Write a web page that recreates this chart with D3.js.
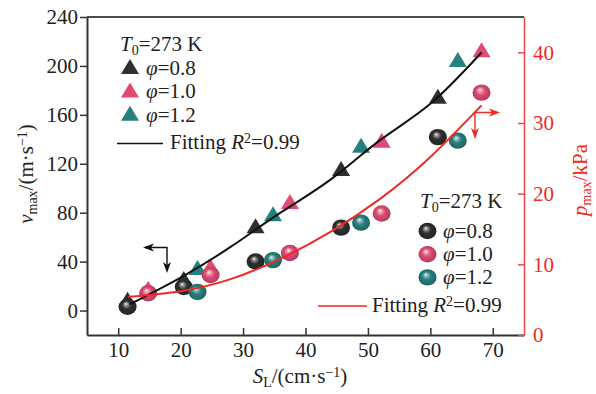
<!DOCTYPE html>
<html>
<head>
<meta charset="utf-8">
<script src="https://cdn.jsdelivr.net/npm/d3@7"></script>
<style>
  html, body { margin: 0; padding: 0; background: #fff; }
  svg text { font-family: "Liberation Serif", "Times New Roman", serif; }
</style>
</head>
<body>
<svg id="chart" width="596" height="394"></svg>
<script>
// Laminar burning velocity S_L (cm/s) for each equivalence ratio
const sl08 = [11.5, 20.5, 32.0, 45.7, 61.2];
const sl10 = [14.8, 24.8, 37.5, 52.2, 68.2];
const sl12 = [22.7, 34.8, 48.9, 64.4];

// Maximum flame speed v_max (m/s) — triangles, left axis
const v08 = [8, 25, 68, 115, 174];
const v10 = [17, 35, 88, 138, 212];
const v12 = [34, 78, 134, 204];

// Maximum overpressure p_max (kPa) — spheres, right axis
const p08 = [4.0, 6.8, 10.4, 15.2, 28.0];
const p10 = [5.9, 8.5, 11.6, 17.2, 34.3];
const p12 = [6.1, 10.6, 15.9, 27.5];

// Fitted curves (R² = 0.99), sampled along S_L
const fitVx = [11.8, 20, 28, 36, 44, 52, 60, 68.2];
const fitV  = [5, 27, 52, 80, 107, 139.5, 169, 211];
const fitPx = [11.6, 20, 28, 36, 44, 52, 60, 68.2];
const fitP  = [5.4, 6.2, 7.9, 10.8, 14.6, 19.3, 25.2, 32.5];

// Tick labels
const xTicks = [10, 20, 30, 40, 50, 60, 70];
const yLeftTicks = [0, 40, 80, 120, 160, 200, 240];
const yRightTicks = [0, 10, 20, 30, 40];

const phiLabels = ["0.8", "1.0", "1.2"];
const colors = ["#2f2f2f", "#e04b73", "#26807f"];

const svg = d3.select("#chart");
const L = 87, R = 524, T = 17, B = 335;
const FS = 21;
const RED = "#ee2a24";

const x = d3.scaleLinear().domain([5, 75]).range([L, R]);
const yL = d3.scaleLinear().domain([-20, 240]).range([B, T]);
const yR = d3.scaleLinear().domain([0, 45]).range([B, T]);

// sphere gradients
const defs = svg.append("defs");
colors.forEach((c, i) => {
  const g = defs.append("radialGradient").attr("id", "ball" + i)
    .attr("cx", "50%").attr("cy", "50%").attr("r", "55%")
    .attr("fx", "40%").attr("fy", "32%");
  const base = d3.color(c);
  g.append("stop").attr("offset", "0%").attr("stop-color", "#ffffff");
  g.append("stop").attr("offset", "14%").attr("stop-color", d3.interpolateRgb(c, "#fff")(0.55));
  g.append("stop").attr("offset", "45%").attr("stop-color", c);
  g.append("stop").attr("offset", "100%").attr("stop-color", base.darker(0.8).formatHex());
});

// frame top line
svg.append("line").attr("x1", L).attr("x2", R).attr("y1", T).attr("y2", T)
  .attr("stroke", "#111").attr("stroke-width", 1.5);

// left axis
const gL = svg.append("g").attr("transform", `translate(${L},0)`)
  .call(d3.axisLeft(yL).tickValues(yLeftTicks).tickSizeInner(7).tickSizeOuter(0).tickPadding(2));
gL.select(".domain").attr("stroke", "#333").attr("stroke-width", 2);
gL.selectAll(".tick line").attr("stroke", "#333").attr("stroke-width", 1.5);
gL.selectAll(".tick text").attr("font-size", FS).attr("fill", "#222")
  .attr("font-family", "Liberation Serif, serif");

// bottom axis
const gB = svg.append("g").attr("transform", `translate(0,${B})`)
  .call(d3.axisBottom(x).tickValues(xTicks).tickSizeInner(-7).tickSizeOuter(0).tickPadding(7));
gB.select(".domain").attr("stroke", "#333").attr("stroke-width", 2);
gB.selectAll(".tick line").attr("stroke", "#333").attr("stroke-width", 1.5);
gB.selectAll(".tick text").attr("font-size", FS).attr("fill", "#222")
  .attr("font-family", "Liberation Serif, serif");

// right axis
const gR = svg.append("g").attr("transform", `translate(${R},0)`)
  .call(d3.axisRight(yR).tickValues(yRightTicks).tickSizeInner(-6).tickSizeOuter(0).tickPadding(9));
gR.select(".domain").attr("stroke", "#ea4a48").attr("stroke-width", 1.5);
gR.selectAll(".tick line").attr("stroke", "#ea4a48").attr("stroke-width", 1.5);
gR.selectAll(".tick text").attr("font-size", FS).attr("fill", RED)
  .attr("font-family", "Liberation Serif, serif");

// triangle marker
const triPath = (cx, cy) => {
  const w = 18, h = 15;
  return `M${cx},${cy - h * 0.6}L${cx + w / 2},${cy + h * 0.4}L${cx - w / 2},${cy + h * 0.4}Z`;
};

const triSeries = [[sl08, v08], [sl10, v10], [sl12, v12]];
const ballSeries = [[sl08, p08], [sl10, p10], [sl12, p12]];

triSeries.forEach(([xs, vs], i) => {
  svg.append("g").selectAll("path").data(xs.map((d, k) => [d, vs[k]])).join("path")
    .attr("d", d => triPath(x(d[0]), yL(d[1])))
    .attr("fill", colors[i]);
});

ballSeries.forEach(([xs, ps], i) => {
  svg.append("g").selectAll("ellipse").data(xs.map((d, k) => [d, ps[k]])).join("ellipse")
    .attr("cx", d => x(d[0])).attr("cy", d => yR(d[1]))
    .attr("rx", 9).attr("ry", 8.2)
    .attr("fill", `url(#ball${i})`);
});

// fitted curves
const lineV = d3.line().x(d => x(d[0])).y(d => yL(d[1])).curve(d3.curveNatural);
const lineP = d3.line().x(d => x(d[0])).y(d => yR(d[1])).curve(d3.curveNatural);
svg.append("path").attr("d", lineV(fitVx.map((d, k) => [d, fitV[k]])))
  .attr("fill", "none").attr("stroke", "#111").attr("stroke-width", 2);
svg.append("path").attr("d", lineP(fitPx.map((d, k) => [d, fitP[k]])))
  .attr("fill", "none").attr("stroke", RED).attr("stroke-width", 2);

// axis-pointer arrows
function arrowHead(g, xTip, yTip, dir, color) {
  const len = 11, hw = 4;
  let p;
  if (dir === "left") p = `M${xTip},${yTip}L${xTip + len},${yTip - hw}L${xTip + len - 3},${yTip}L${xTip + len},${yTip + hw}Z`;
  if (dir === "right") p = `M${xTip},${yTip}L${xTip - len},${yTip - hw}L${xTip - len + 3},${yTip}L${xTip - len},${yTip + hw}Z`;
  if (dir === "down") p = `M${xTip},${yTip}L${xTip - hw},${yTip - len}L${xTip},${yTip - len + 3}L${xTip + hw},${yTip - len}Z`;
  g.append("path").attr("d", p).attr("fill", color);
}
const ga = svg.append("g");
ga.append("path").attr("d", "M145,247.5H167V270").attr("fill", "none").attr("stroke", "#111").attr("stroke-width", 1.4);
arrowHead(ga, 143, 247.5, "left", "#111");
arrowHead(ga, 167, 273, "down", "#111");
ga.append("path").attr("d", "M497,112.5H475V136").attr("fill", "none").attr("stroke", RED).attr("stroke-width", 1.4);
arrowHead(ga, 500, 112.5, "right", RED);
arrowHead(ga, 475, 139, "down", RED);

// rich text helper: parts are [text, style]
function rich(sel, parts) {
  parts.forEach(([t, s]) => {
    const ts = sel.append("tspan").text(t);
    if (s === "i") ts.attr("font-style", "italic");
    if (s === "sub") ts.attr("font-size", 14).attr("baseline-shift", "-30%");
    if (s === "isub") ts.attr("font-size", 14).attr("baseline-shift", "-30%");
    if (s === "sup") ts.attr("font-size", 14).attr("baseline-shift", "45%");
  });
  return sel;
}

// legend for triangles (v_max)
const lg1 = svg.append("g").attr("font-size", FS).attr("fill", "#222");
rich(lg1.append("text").attr("x", 120).attr("y", 51), [["T", "i"], ["0", "sub"], ["=273 K", ""]]);
phiLabels.forEach((lab, i) => {
  const cy = 68 + i * 23.4;
  lg1.append("path").attr("d", triPath(130, cy)).attr("fill", colors[i]);
  rich(lg1.append("text").attr("x", 146).attr("y", cy + 7), [["φ", "i"], ["=" + lab, ""]]);
});
lg1.append("line").attr("x1", 117).attr("x2", 163).attr("y1", 143.5).attr("y2", 143.5)
  .attr("stroke", "#111").attr("stroke-width", 1.5);
rich(lg1.append("text").attr("x", 170).attr("y", 149), [["Fitting ", ""], ["R", "i"], ["2", "sup"], ["=0.99", ""]]);

// legend for spheres (p_max)
const lg2 = svg.append("g").attr("font-size", FS).attr("fill", "#222");
rich(lg2.append("text").attr("x", 420).attr("y", 208), [["T", "i"], ["0", "sub"], ["=273 K", ""]]);
phiLabels.forEach((lab, i) => {
  const cy = 231 + i * 23.2;
  lg2.append("ellipse").attr("cx", 427.5).attr("cy", cy).attr("rx", 9).attr("ry", 8.2)
    .attr("fill", `url(#ball${i})`);
  rich(lg2.append("text").attr("x", 443).attr("y", cy + 6.5), [["φ", "i"], ["=" + lab, ""]]);
});
lg2.append("line").attr("x1", 318).attr("x2", 367).attr("y1", 306).attr("y2", 306)
  .attr("stroke", RED).attr("stroke-width", 1.5);
rich(lg2.append("text").attr("x", 372).attr("y", 312), [["Fitting ", ""], ["R", "i"], ["2", "sup"], ["=0.99", ""]]);

// axis titles
rich(svg.append("text").attr("font-size", FS).attr("fill", "#222").attr("text-anchor", "middle")
  .attr("transform", "translate(33,174) rotate(-90)"),
  [["v", "i"], ["max", "sub"], ["/(m·s", ""], ["−1", "sup"], [")", ""]]);

rich(svg.append("text").attr("font-size", FS).attr("fill", "#222").attr("text-anchor", "middle")
  .attr("x", 300).attr("y", 383),
  [["S", "i"], ["L", "sub"], ["/(cm·s", ""], ["−1", "sup"], [")", ""]]);

rich(svg.append("text").attr("font-size", FS).attr("fill", RED).attr("text-anchor", "middle")
  .attr("transform", "translate(587,180) rotate(-90)"),
  [["p", "i"], ["max", "sub"], ["/kPa", ""]]);
</script>
</body>
</html>
